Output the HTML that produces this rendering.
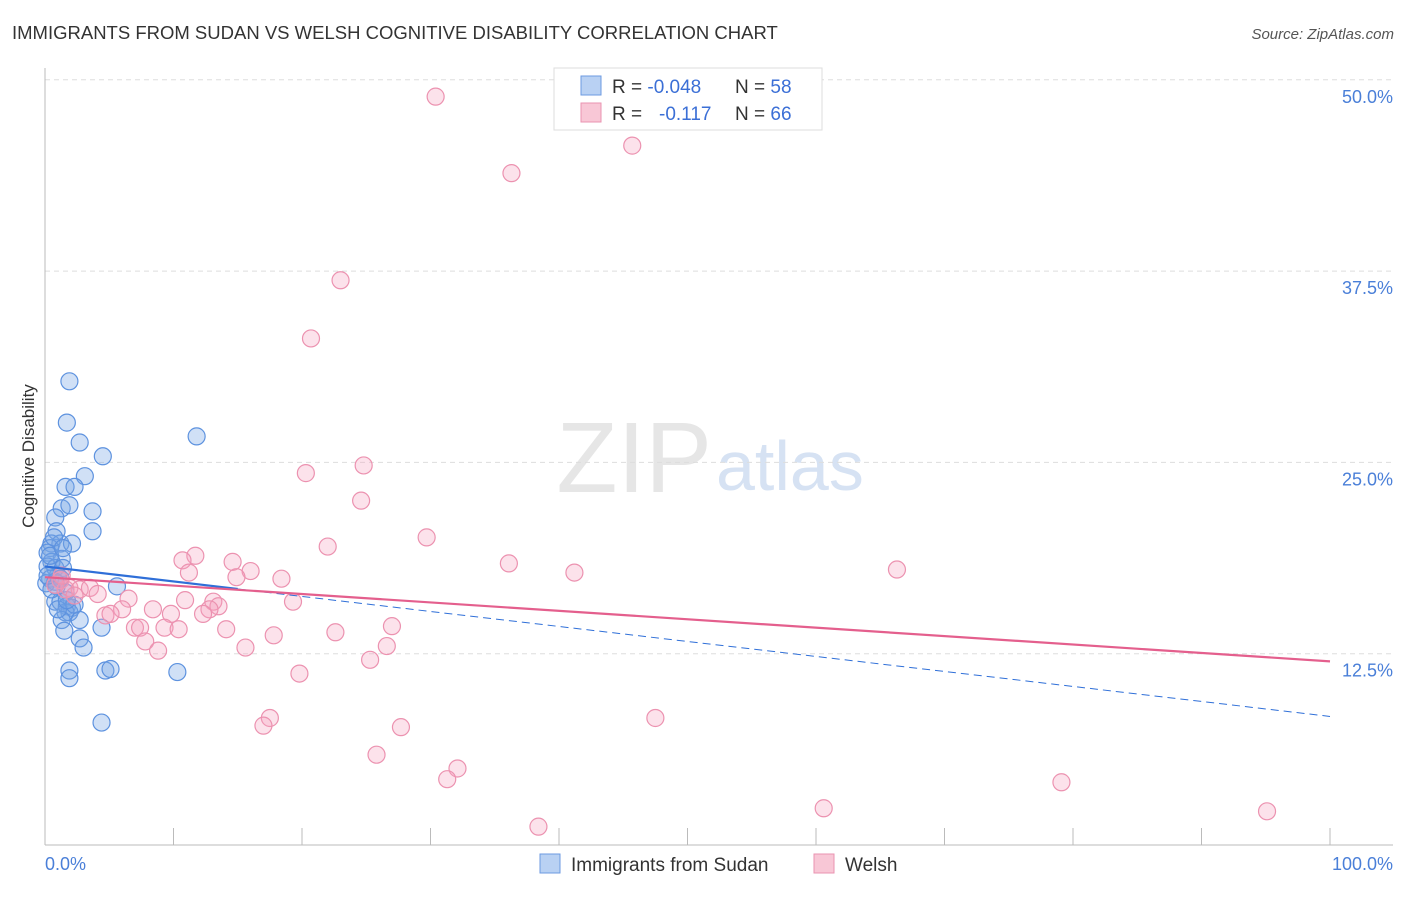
<!DOCTYPE html>
<html><head><meta charset="utf-8"><style>
body{margin:0;background:#fff;font-family:"Liberation Sans",sans-serif;}
svg text{font-family:"Liberation Sans",sans-serif;}
</style></head><body>
<svg width="1406" height="892" viewBox="0 0 1406 892" xmlns="http://www.w3.org/2000/svg">
<text x="12" y="39" font-size="18.5" fill="#333">IMMIGRANTS FROM SUDAN VS WELSH COGNITIVE DISABILITY CORRELATION CHART</text>
<text x="1394" y="39" font-size="15" fill="#555" font-style="italic" text-anchor="end">Source: ZipAtlas.com</text>
<text x="712" y="492" font-size="100" fill="#e6e6e6" text-anchor="end" font-family="Liberation Serif">ZIP</text>
<text x="716" y="490" font-size="70" fill="#d6e2f3">atlas</text>
<g id="grid"></g>
<g id="axes"></g>
<g id="pts"></g>
<g id="trend"></g>
<text transform="translate(34,456) rotate(-90)" font-size="17" fill="#333" text-anchor="middle">Cognitive Disability</text>
<g>
<rect x="554" y="68" width="268" height="62" fill="#fff" stroke="#ddd"/>
<rect x="581" y="76" width="20" height="19" fill="#b9d1f3" stroke="#6c9ae0"/>
<rect x="581" y="103" width="20" height="19" fill="#f8c7d6" stroke="#ea93b0"/>
<text x="612" y="93" font-size="19" fill="#333">R = <tspan fill="#3b6fd6">-0.048</tspan></text>
<text x="735" y="93" font-size="19" fill="#333">N = <tspan fill="#3b6fd6">58</tspan></text>
<text x="612" y="120" font-size="19" fill="#333">R = </text>
<text x="659" y="120" font-size="19" fill="#3b6fd6">-0.117</text>
<text x="735" y="120" font-size="19" fill="#333">N = <tspan fill="#3b6fd6">66</tspan></text>
</g>
<g>
<rect x="540" y="854" width="20" height="19" fill="#b9d1f3" stroke="#6c9ae0"/>
<text x="571" y="871" font-size="19" fill="#333">Immigrants from Sudan</text>
<rect x="814" y="854" width="20" height="19" fill="#f8c7d6" stroke="#ea93b0"/>
<text x="845" y="871" font-size="19" fill="#333">Welsh</text>
</g>
</svg>
<script>
const blueX=[1.9,1.7,2.7,4.5,3.1,1.6,2.3,11.8,1.3,1.9,3.7,0.8,3.7,0.9,0.5,1.2,2.1,0.4,0.2,1.3,0.5,0.2,0.8,1.4,1.0,0.4,0.1,0.8,1.2,5.6,1.6,0.8,1.2,1.7,2.1,1.9,1.6,1.3,2.7,1.5,4.4,2.7,3.0,1.9,1.9,4.7,5.1,10.3,4.4,0.9,0.5,0.2,2.3,1.0,0.4,0.7,1.4,1.7];
const blueY=[30.3,27.6,26.3,25.4,24.1,23.4,23.4,26.7,22.0,22.2,21.8,21.4,20.5,20.5,19.7,19.7,19.7,19.4,19.1,18.7,18.5,18.2,18.1,18.1,17.6,17.4,17.1,17.2,17.4,16.9,16.5,15.9,15.9,15.6,15.5,15.2,15.2,14.7,14.7,14.0,14.2,13.5,12.9,11.4,10.9,11.4,11.5,11.3,8.0,16.9,16.7,17.6,15.7,15.4,18.9,20.1,19.4,16.0];
const pinkX=[30.4,45.7,36.3,23.0,20.7,20.3,24.8,24.6,29.7,22.0,36.1,41.2,66.3,11.7,10.7,14.6,16.0,11.2,14.9,18.4,6.5,8.4,9.8,10.9,13.1,13.5,12.8,12.3,19.3,6.0,4.7,5.1,7.0,7.4,9.3,10.4,7.8,8.8,14.1,17.8,22.6,27.0,15.6,26.6,25.3,19.8,17.5,17.0,27.7,47.5,25.8,32.1,31.3,60.6,79.1,38.4,95.1,1.2,1.6,1.9,2.7,3.5,2.3,4.1,0.8,1.3];
const pinkY=[48.9,45.7,43.9,36.9,33.1,24.3,24.8,22.5,20.1,19.5,18.4,17.8,18.0,18.9,18.6,18.5,17.9,17.8,17.5,17.4,16.1,15.4,15.1,16.0,15.9,15.6,15.4,15.1,15.9,15.4,15.0,15.1,14.2,14.2,14.2,14.1,13.3,12.7,14.1,13.7,13.9,14.3,12.9,13.0,12.1,11.2,8.3,7.8,7.7,8.3,5.9,5.0,4.3,2.4,4.1,1.2,2.2,17.3,16.7,16.8,16.7,16.8,16.3,16.4,17.0,17.6];
const yTicks=[12.5,25.0,37.5,50.0];
const xTicks=[0,10,20,30,40,50,60,70,80,90,100];
const blueTrend=[18.2,8.4];
const blueSolidEnd=15;
const pinkTrend=[17.5,12.0];
const NS="http://www.w3.org/2000/svg";
const X=v=>45+v*12.85, Y=v=>845-v*15.304;
function mk(tag,attrs,parent){const e=document.createElementNS(NS,tag);for(const k in attrs)e.setAttribute(k,attrs[k]);document.getElementById(parent).appendChild(e);return e;}
yTicks.forEach(t=>{
 const l=mk('line',{x1:45,x2:1393,y1:Y(t),y2:Y(t),stroke:'#ddd','stroke-dasharray':'5,4'},'grid');
 
 
 const tx=mk('text',{x:1393,y:Y(t)+23,'font-size':18,fill:'#4a7fd8','text-anchor':'end'},'grid');
 tx.textContent=t.toFixed(1)+'%';
 
 
});
let ax=mk('line',{x1:45,x2:45,y1:68,y2:845,stroke:'#bbb'},'axes');


ax=mk('line',{x1:45,x2:1393,y1:845,y2:845,stroke:'#bbb'},'axes');


xTicks.forEach(t=>{if(t===0)return;
 const l=mk('line',{x1:X(t),x2:X(t),y1:828,y2:845,stroke:'#bbb'},'axes');
 
 
});
[[0,'0.0%','start',45],[100,'100.0%','end',1393]].forEach(d=>{
 const tx=mk('text',{x:d[3],y:870,'font-size':18,fill:'#4a7fd8','text-anchor':d[2]},'axes');
 tx.textContent=d[1];
 
 
});
blueX.forEach((v,i)=>{
 const c=mk('circle',{cx:X(v),cy:Y(blueY[i]),r:8.5,fill:'rgba(120,165,230,0.35)',stroke:'#5d92df','stroke-width':1.2},'pts');
 
 
});
pinkX.forEach((v,i)=>{
 const c=mk('circle',{cx:X(v),cy:Y(pinkY[i]),r:8.5,fill:'rgba(244,160,188,0.3)',stroke:'#ec92b0','stroke-width':1.2},'pts');
 
 
});
const bAt=x=>blueTrend[0]+(blueTrend[1]-blueTrend[0])*x/100;
let t=mk('line',{x1:X(0),y1:Y(bAt(0)),x2:X(blueSolidEnd),y2:Y(bAt(blueSolidEnd)),stroke:'#2f6fd8','stroke-width':2.2},'trend');


t=mk('line',{x1:X(blueSolidEnd),y1:Y(bAt(blueSolidEnd)),x2:X(100),y2:Y(bAt(100)),stroke:'#2f6fd8','stroke-width':1,'stroke-dasharray':'8,5'},'trend');


t=mk('line',{x1:X(0),y1:Y(pinkTrend[0]),x2:X(100),y2:Y(pinkTrend[1]),stroke:'#e45f8d','stroke-width':2.2},'trend');


</script>
</body></html>
